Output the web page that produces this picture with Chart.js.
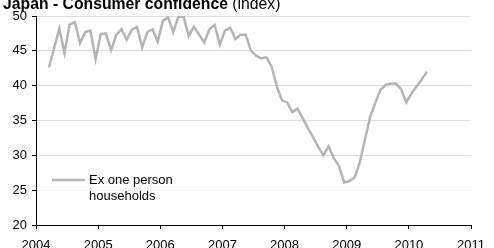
<!DOCTYPE html>
<html>
<head>
<meta charset="utf-8">
<script src="https://cdn.jsdelivr.net/npm/chart.js@4"></script>
<style>
  html, body { margin: 0; padding: 0; background: #fff; }
  #wrap { width: 494px; height: 248px; position: relative; }
</style>
</head>
<body>
<div id="wrap"><canvas id="confidence"></canvas></div>
<script>
// Japan consumer confidence, monthly, Mar 2004 - Apr 2010
var months = [
    '2004-03','2004-04','2004-05','2004-06','2004-07','2004-08','2004-09','2004-10','2004-11','2004-12',
    '2005-01','2005-02','2005-03','2005-04','2005-05','2005-06','2005-07','2005-08','2005-09','2005-10','2005-11','2005-12',
    '2006-01','2006-02','2006-03','2006-04','2006-05','2006-06','2006-07','2006-08','2006-09','2006-10','2006-11','2006-12',
    '2007-01','2007-02','2007-03','2007-04','2007-05','2007-06','2007-07','2007-08','2007-09','2007-10','2007-11','2007-12',
    '2008-01','2008-02','2008-03','2008-04','2008-05','2008-06','2008-07','2008-08','2008-09','2008-10','2008-11','2008-12',
    '2009-01','2009-02','2009-03','2009-04','2009-05','2009-06','2009-07','2009-08','2009-09','2009-10','2009-11','2009-12',
    '2010-01','2010-02','2010-03','2010-04'
];
var exOnePerson = [
    42.6, 45.4, 48.2, 44.7, 48.8, 49.1, 46.1, 47.7, 47.9, 43.8,
    47.4, 47.5, 45.1, 47.3, 48.1, 46.6, 48.0, 48.4, 45.5, 47.7, 48.1, 46.3,
    49.3, 49.8, 47.7, 49.9, 49.9, 47.1, 48.5, 47.3, 46.2, 48.1, 48.7, 45.9,
    47.9, 48.3, 46.7, 47.3, 47.3, 45.0, 44.3, 43.9, 44.1, 42.7, 39.9, 37.9,
    37.6, 36.2, 36.7, 35.3, 33.9, 32.6, 31.2, 30.0, 31.3, 29.6, 28.5, 26.1,
    26.3, 26.8, 28.9, 32.2, 35.5, 37.5, 39.4, 40.1, 40.3, 40.3, 39.5, 37.6,
    38.9, 39.9, 40.9, 42.0
];
var seriesLabel = 'Ex one person households';
var legendLines = ['Ex one person', 'households'];
var titleBold = 'Japan - Consumer confidence';
var titleUnit = ' (index)';
var yearTicks = [2004, 2011];   // x axis range, one tick per year
var valueTicks = [20, 50];      // y axis range, step 5

var FONT = "'Liberation Sans', Arial, sans-serif";
var LINE = 'rgb(180, 180, 180)';

// month string -> decimal year at mid-month
var points = months.map(function (m, i) {
    var p = m.split('-');
    return { x: +p[0] + (+p[1] - 0.5) / 12, y: exOnePerson[i] };
});

var titlePlugin = {
    id: 'titleText',
    afterDraw: function (chart) {
        var c = chart.ctx;
        c.save();
        c.fillStyle = '#000';
        c.textBaseline = 'alphabetic';
        c.textAlign = 'left';
        c.font = 'bold 15.75px ' + FONT;
        c.fillText(titleBold, 3, 9);
        var w = c.measureText(titleBold).width;
        c.font = '15.75px ' + FONT;
        c.fillText(titleUnit, 3 + w, 9);
        c.restore();
    }
};

var legendPlugin = {
    id: 'lineLegend',
    afterDraw: function (chart) {
        var c = chart.ctx;
        var ds = chart.data.datasets[0];
        c.save();
        c.strokeStyle = ds.borderColor;
        c.lineWidth = ds.borderWidth;
        c.beginPath();
        c.moveTo(52, 180);
        c.lineTo(85, 180);
        c.stroke();
        c.fillStyle = '#000';
        c.font = '13px ' + FONT;
        c.textBaseline = 'middle';
        legendLines.forEach(function (t, i) {
            c.fillText(t, 89, 180 + i * 16);
        });
        c.restore();
    }
};

var ctx = document.getElementById('confidence').getContext('2d');
var chart = new Chart(ctx, {
    type: 'line',
    data: {
        datasets: [{
            label: seriesLabel,
            data: points,
            borderColor: LINE,
            borderWidth: 2.5,
            pointRadius: 0,
            tension: 0,
            fill: false
        }]
    },
    options: {
        responsive: true,
        maintainAspectRatio: false,
        animation: false,
        layout: { padding: { top: 16, right: 17, left: 0, bottom: 0 } },
        plugins: {
            legend: { display: false },
            tooltip: { enabled: false }
        },
        scales: {
            x: {
                type: 'linear',
                min: yearTicks[0],
                max: yearTicks[1],
                ticks: {
                    stepSize: 1,
                    color: '#000',
                    font: { family: FONT, size: 13 },
                    padding: 9,
                    maxRotation: 0,
                    callback: function (v) { return String(v); }
                },
                grid: { drawOnChartArea: false, tickColor: '#000', tickLength: 4 },
                border: { color: '#000', width: 1 },
                afterFit: function (s) { s.height = 23; }
            },
            y: {
                min: valueTicks[0],
                max: valueTicks[1],
                ticks: {
                    stepSize: 5,
                    color: '#000',
                    font: { family: FONT, size: 13 },
                    padding: 5
                },
                grid: {
                    color: function (c) { return c.tick && c.tick.value === 25 ? '#f3f3f3' : '#dedede'; },
                    tickColor: '#000',
                    tickLength: 4
                },
                border: { color: '#000', width: 1 },
                afterFit: function (s) { s.width = 36; }
            }
        }
    },
    plugins: [titlePlugin, legendPlugin]
});
</script>
</body>
</html>
